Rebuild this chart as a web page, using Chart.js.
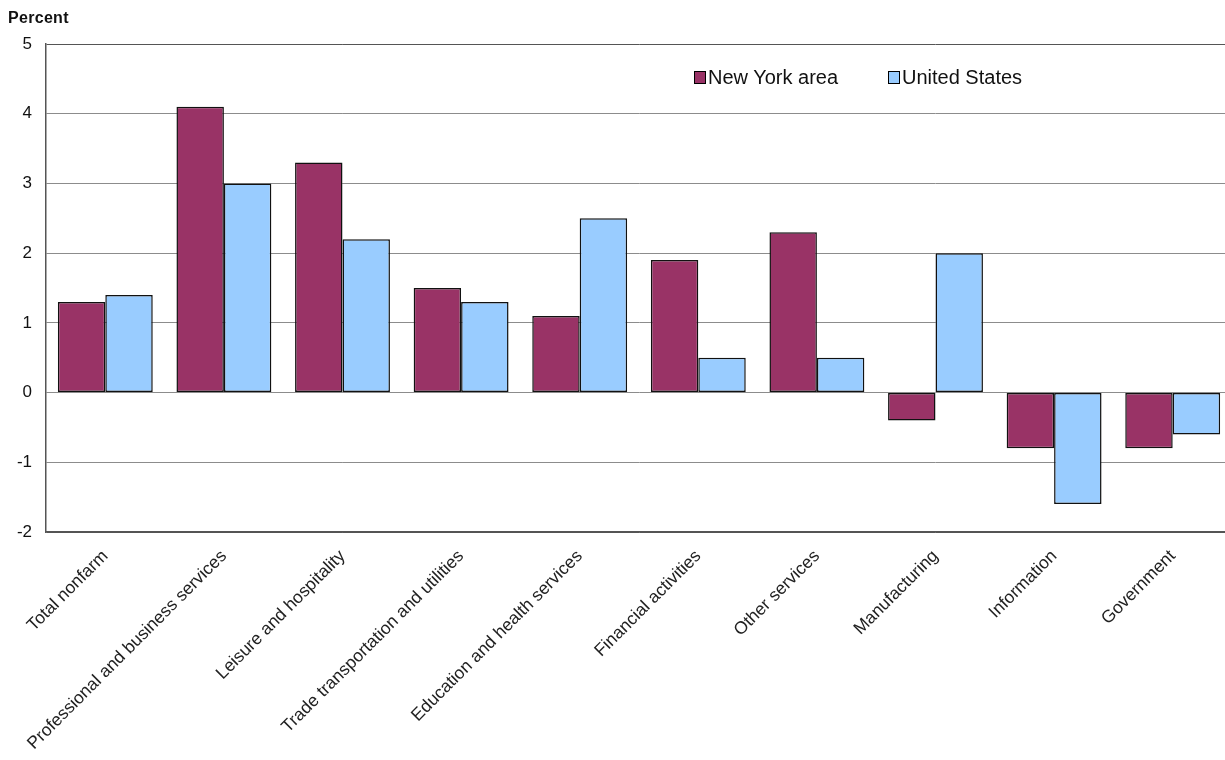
<!DOCTYPE html>
<html>
<head>
<meta charset="utf-8">
<script src="https://cdn.jsdelivr.net/npm/chart.js@4/dist/chart.umd.min.js"></script>
<style>
  html, body { margin: 0; padding: 0; background: #fff; overflow: hidden; }
  #wrap { position: relative; width: 1232px; height: 760px; }
  #percent { position: absolute; left: 8px; top: 9px; font: bold 16px "Liberation Sans", Arial, sans-serif; color: #111; letter-spacing: 0.3px; }
  #legenda { position: absolute; left: 694px; top: 66px; font: 20px "Liberation Sans", Arial, sans-serif; color: #111; }
  #legenda span.item { position: absolute; white-space: nowrap; }
  #legenda span.box { display: inline-block; width: 10px; height: 11px; border: 1px solid #000; margin-right: 2px; vertical-align: 0px; }
</style>
</head>
<body>
<div id="wrap">
  <canvas id="grafico" width="1232" height="760"></canvas>
  <div id="percent">Percent</div>
  <div id="legenda"></div>
</div>
<script>
// Categorie e valori (variazione percentuale)
const categorie = [
    "Total nonfarm", "Professional and business services", "Leisure and hospitality",
    "Trade transportation and utilities", "Education and health services",
    "Financial activities", "Other services", "Manufacturing", "Information", "Government"
];
const newYork = [1.3, 4.1, 3.3, 1.5, 1.1, 1.9, 2.3, -0.4, -0.8, -0.8];
const statiUniti = [1.4, 3.0, 2.2, 1.3, 2.5, 0.5, 0.5, 2.0, -1.6, -0.6];
const serie = ["New York area", "United States"];
const colori = ["#993366", "#99ccff"];

const font = "'Liberation Sans', Arial, sans-serif";

const ctx = document.getElementById("grafico").getContext("2d");
const grafico = new Chart(ctx, {
    type: "bar",
    data: {
        labels: categorie,
        datasets: [
            { label: serie[0], data: newYork, backgroundColor: colori[0], borderColor: "#111", borderWidth: 1.5, borderSkipped: false },
            { label: serie[1], data: statiUniti, backgroundColor: colori[1], borderColor: "#111", borderWidth: 1.5, borderSkipped: false }
        ]
    },
    options: {
        responsive: false,
        animation: false,
        layout: { padding: { top: 44, right: 0, left: 0, bottom: 0 } },
        categoryPercentage: 0.8,
        barPercentage: 1.0,
        plugins: {
            legend: { display: false },
            tooltip: { enabled: false }
        },
        scales: {
            x: {
                grid: { display: false, drawTicks: false },
                border: { color: "#555", width: 1.5 },
                ticks: {
                    minRotation: 45,
                    maxRotation: 45,
                    padding: 14,
                    color: "#222",
                    font: { family: font, size: 17.5 }
                },
                afterFit: s => { s.height = 228; }
            },
            y: {
                min: -2,
                max: 5,
                grid: {
                    drawTicks: false,
                    color: c => (c.tick && (c.tick.value === 5 || c.tick.value === -2)) ? "#555" : "#8c8c8c"
                },
                border: { color: "#555", width: 1.5 },
                ticks: {
                    stepSize: 1,
                    padding: 14,
                    color: "#111",
                    font: { family: font, size: 17 }
                },
                afterFit: s => { s.width = 46; }
            }
        }
    }
});

// Legenda dentro l'area del grafico
const legenda = document.getElementById("legenda");
const posizioni = [0, 194];
serie.forEach((nome, i) => {
    const item = document.createElement("span");
    item.className = "item";
    item.style.left = posizioni[i] + "px";
    const box = document.createElement("span");
    box.className = "box";
    box.style.background = colori[i];
    item.appendChild(box);
    item.appendChild(document.createTextNode(nome));
    legenda.appendChild(item);
});
</script>
</body>
</html>
